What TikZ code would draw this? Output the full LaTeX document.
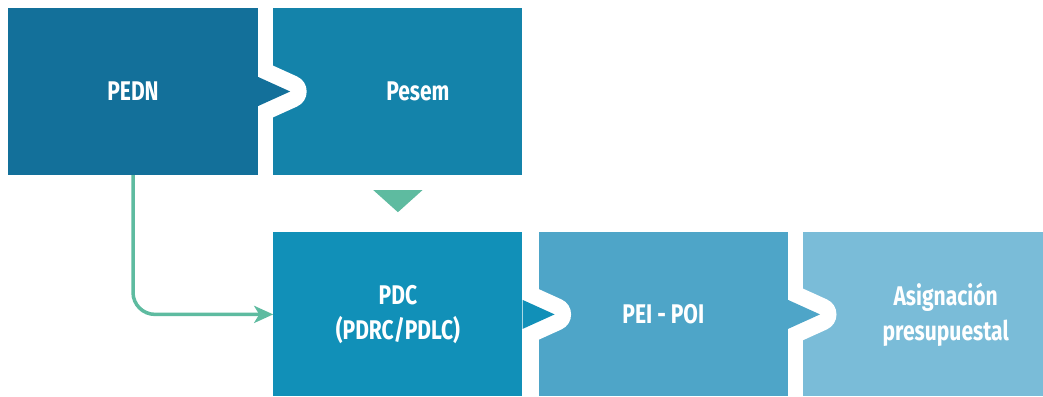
\documentclass[tikz,border=0pt]{standalone}
\usepackage{fontspec}
\setmainfont{Fira Sans}[FakeStretch=0.78]
\usetikzlibrary{positioning,calc,arrows.meta}
\definecolor{pednblue}{HTML}{13709A}
\definecolor{pesemblue}{HTML}{1483AA}
\definecolor{pdcblue}{HTML}{1190B8}
\definecolor{peiblue}{HTML}{4EA5C8}
\definecolor{asigblue}{HTML}{7ABCD8}
\definecolor{linkgreen}{HTML}{5EBBA0}
\tikzset{
  boxtext/.style={text=white,font=\fontsize{27}{35}\selectfont\bfseries,align=center},
  box/.style={rectangle,inner sep=0pt,minimum width=249pt,boxtext},
  gap/.style={draw=white,line width=33pt,line join=round},
  link/.style={draw=linkgreen,line width=3.5pt,rounded corners=22pt,
               -{Stealth[length=19pt,width=17pt,inset=5pt]}}
}
% Arrow notch between two boxes
\newcommand*{\pointer}[3]{%
  \begin{scope}
    \clip (#1.north east) rectangle (#2.south east);
    \draw[gap] ($(#1.east)+(0,-14.5)$) -- ($(#1.east)+(32,0)$) -- ($(#1.east)+(0,14.5)$) -- cycle;
  \end{scope}
  \fill[#3] ($(#1.east)+(0,-14.5)$) -- ($(#1.east)+(32,0)$) -- ($(#1.east)+(0,14.5)$) -- cycle;
}

\begin{document}
\begin{tikzpicture}[x=1pt,y=-1pt]
\useasboundingbox (0,0) rectangle (1043,396);
% Top row
\node[box,fill=pednblue,minimum width=250pt,minimum height=167pt] (pedn) at (133,91.5) {PEDN};
\node[box,fill=pesemblue,minimum height=167pt,
      label={[boxtext,xshift=20pt]center:Pesem}] (pesem) [right=15pt of pedn] {};
% Bottom row
\node[box,fill=pdcblue,minimum height=164pt] (pdc) [below=57pt of pesem] {PDC\\(PDRC/PDLC)};
\node[box,fill=peiblue,minimum height=164pt] (pei) [right=16pt of pdc] {PEI - POI};
\node[box,fill=asigblue,minimum height=164pt,
      label={[boxtext,xshift=18pt]center:Asignación\\presupuestal}] (asig) [right=15pt of pei] {};
% Notches
\pointer{pedn}{pesem}{pednblue}
\pointer{pdc}{pei}{pdcblue}
\pointer{pei}{asig}{peiblue}
% Links
\fill[linkgreen] ($(pesem.south)+(-24.5,15)$) -- ($(pesem.south)+(24.5,15)$) -- ($(pesem.south)+(0,37)$) -- cycle;
\draw[link] (pedn.south) |- (pdc.west);
\end{tikzpicture}
\end{document}
